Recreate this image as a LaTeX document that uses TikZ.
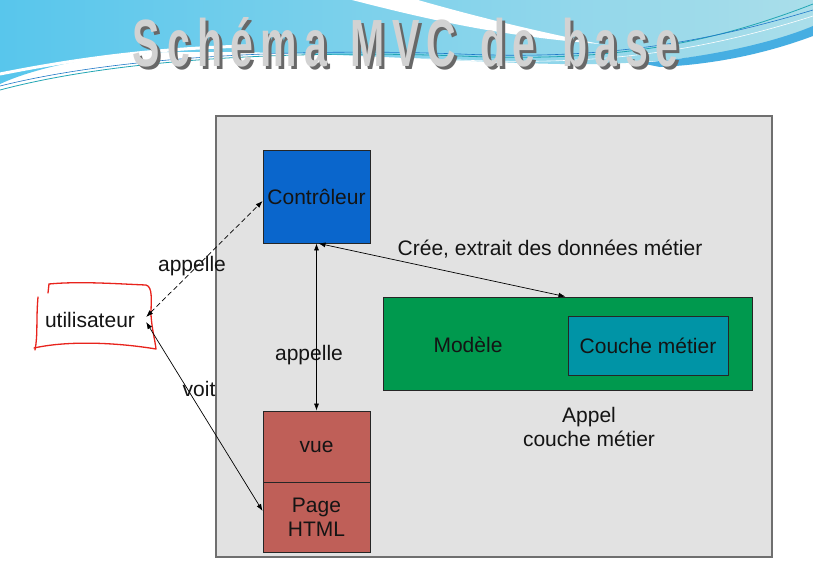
\documentclass[tikz,border=0pt]{standalone}
\usepackage{fontspec}
\setmainfont{Liberation Sans}
\newfontfamily\titlefont[LetterSpace=18]{Liberation Sans}
\usetikzlibrary{arrows.meta}

\definecolor{bannerL}{HTML}{58C6EC}
\definecolor{bannerM}{HTML}{80C8E8}
\definecolor{bannerR}{HTML}{AADEEA}
\definecolor{bannerD}{HTML}{46AEE2}
\definecolor{swooshA}{HTML}{22A6B4}
\definecolor{swooshB}{HTML}{1F78C8}
\definecolor{panelfill}{HTML}{E2E2E2}
\definecolor{panelline}{HTML}{6F6F6F}
\definecolor{ctrlblue}{HTML}{0A66CC}
\definecolor{modgreen}{HTML}{00994E}
\definecolor{metierteal}{HTML}{0094A6}
\definecolor{vuered}{HTML}{BF5F58}
\definecolor{userred}{HTML}{E8231C}
\definecolor{titlesilver}{HTML}{D2D2D2}
\definecolor{titleshade}{HTML}{686868}

\tikzset{
  lbl/.style={font=\fontsize{21}{24}\selectfont, inner sep=0pt, text=black!92},
  box/.style={draw=black!85, line width=0.8pt, inner sep=0pt},
  link/.style={line width=0.7pt, black,
    {Latex[length=7pt,width=5pt]}-{Latex[length=7pt,width=5pt]}},
  titletext/.style={inner sep=0pt},
}

\newcommand{\mvctitle}{\resizebox{545pt}{49pt}{\titlefont\bfseries
  Schéma\hspace{0.12em} MVC\hspace{0.12em} de\hspace{0.2em} base}}

\begin{document}
\begin{tikzpicture}[x=1pt,y=-1pt]
\useasboundingbox (0,0) rectangle (813,584);
\fill[white] (0,0) rectangle (813,584);

% --- banner background ---
\shade[left color=bannerL, middle color=bannerM, right color=bannerR]
  (0,0) -- (813,0) -- (813,34)
  .. controls (740,52) and (660,66) .. (560,64)
  .. controls (450,62) and (300,50) .. (170,52)
  .. controls (90,54) and (30,70) .. (0,84) -- cycle;
% white sweep coming down from the top edge
\fill[white] (352,0) .. controls (430,20) and (500,36) .. (600,44)
  .. controls (520,28) and (460,12) .. (418,0) -- cycle;
% darker blue band on the right
\fill[bannerD] (640,63) .. controls (720,56) and (780,40) .. (813,26)
  -- (813,36) .. controls (770,52) and (720,64) .. (660,67) -- cycle;
% white ribbon on the left
\draw[white, line width=3pt] (0,74) .. controls (80,58) and (160,48) .. (250,46);
% thin coloured swoosh lines
\draw[swooshA, line width=0.8pt] (0,90) .. controls (120,58) and (300,50) .. (460,56)
  .. controls (600,62) and (700,48) .. (813,4);
\draw[swooshB, line width=0.6pt] (0,86) .. controls (120,56) and (300,48) .. (460,54)
  .. controls (600,60) and (700,44) .. (813,10);
\draw[white, line width=0.6pt] (0,94) .. controls (120,62) and (300,54) .. (460,60)
  .. controls (600,66) and (700,52) .. (813,16);

% --- title: grey drop shadow under silver letters ---
\node[titletext, text=titleshade] (titleshadow) at (408.5,45.5) {\mvctitle};
\node[titletext, text=titlesilver] (title) at (405.5,42.5) {\mvctitle};

% --- application panel ---
\node[draw=panelline, fill=panelfill, line width=1.5pt, minimum width=556pt,
      minimum height=441pt, inner sep=0pt] (panel) at (494,336.5) {};

% --- components ---
\node[lbl, box, fill=ctrlblue, minimum width=107pt, minimum height=93pt] (ctrl)
  at (316.5,196.5) {Contrôleur};
\node[box, fill=modgreen, minimum width=369pt, minimum height=93pt] (model)
  at (567.5,343.5) {};
\node[lbl] (modeltxt) at (468,345) {Modèle};
\node[lbl, box, fill=metierteal, minimum width=160pt, minimum height=59pt] (metier)
  at (648,345.5) {Couche métier};
\node[lbl, box, fill=vuered, minimum width=107pt, minimum height=71pt] (vue)
  at (316.5,446.5) {vue};
\node[lbl, box, fill=vuered, minimum width=107pt, minimum height=70pt, align=center] (page)
  at (316.5,517) {Page\\HTML};

% --- user ---
\node[lbl, inner xsep=11pt] (user) at (90,320) {utilisateur};
\draw[userred, line width=1.3pt, line cap=round, line join=round]
  (49,284) .. controls (80,281) and (120,284) .. (146,285)
  .. controls (153,287) and (151,300) .. (151,315)
  .. controls (152,330) and (155,340) .. (156,349)
  .. controls (120,343) and (70,340) .. (34,348);
\draw[userred, line width=1.3pt, line cap=round] (38,297) .. controls (36,320) and (38,335) .. (35,350);
\draw[userred, line width=1.3pt, line cap=round] (49,284) -- (48,293);

% --- labels ---
\node[lbl] (appelleA) at (192,266) {appelle};
\node[lbl] (voit) at (199,389) {voit};
\node[lbl] (appelleB) at (309,355) {appelle};
\node[lbl] (cree) at (550,249) {Crée, extrait des données métier};
\node[lbl, align=center] (appel) at (589,427) {Appel\\couche métier};

% --- connectors ---
\draw[link, dash pattern=on 5pt off 3pt] ([yshift=3pt]user.east) -- ([yshift=-4.5pt]ctrl.west);
\draw[link] (ctrl.south) -- (vue.north);
\draw[link] ([xshift=2pt]ctrl.south) -- ([xshift=-2pt]model.north);
\draw[link] ([yshift=-2pt]user.east) -- ([yshift=6pt]page.west);
\end{tikzpicture}
\end{document}
